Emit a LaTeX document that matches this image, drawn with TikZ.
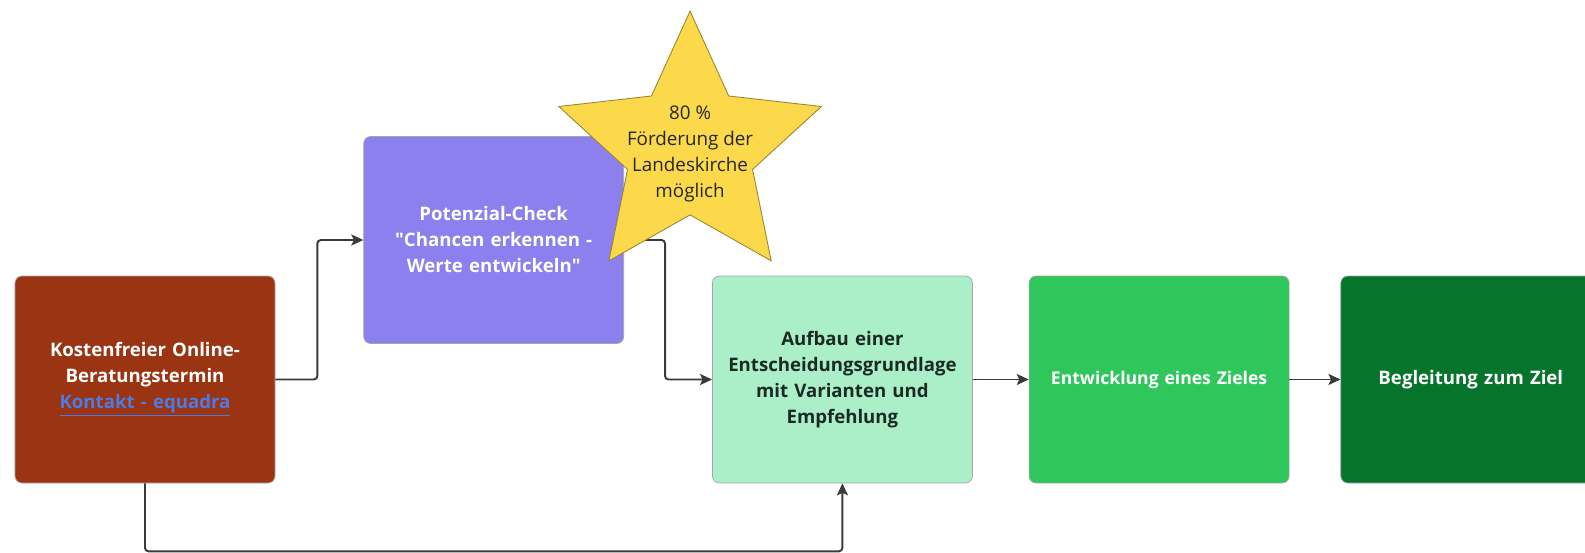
\documentclass[tikz,border=0pt]{standalone}
\usepackage{fontspec}
\setmainfont{Open Sans}
\usepackage{xcolor}
\usepackage{tikz}
\usetikzlibrary{shapes.geometric, arrows.meta, positioning}
\definecolor{rust}{HTML}{9A3412}
\definecolor{violet}{HTML}{8C7FEE}
\definecolor{mint}{HTML}{ABEFC8}
\definecolor{leaf}{HTML}{2FC65C}
\definecolor{forest}{HTML}{07742B}
\definecolor{gold}{HTML}{FCD94A}
\definecolor{goldline}{HTML}{9A8632}
\definecolor{linkblue}{HTML}{4B7BE5}
\definecolor{wire}{HTML}{3A3A3A}
\definecolor{ink}{HTML}{1B2A22}

\begin{document}
\begin{tikzpicture}[
  box/.style={rectangle, rounded corners=4pt, draw=black!35, line width=0.4pt,
              minimum width=5.2cm, minimum height=4.14cm, text width=4.9cm,
              align=center, text=white,
              font={\fontsize{10.6}{14.8}\selectfont\bfseries}},
  badge/.style={star, star points=5, star point ratio=2.1, minimum size=5.52cm,
                inner sep=0pt, fill=gold, draw=goldline, line width=0.5pt},
  badgetext/.style={align=center, text=black!85,
                    font={\fontsize{10.7}{14.8}\selectfont}},
  arrow/.style={-{Stealth[length=2.4mm, width=2.2mm, inset=0.5mm]},
                line width=1.1pt, color=wire, rounded corners=2pt}
]
\useasboundingbox (0,0) rectangle (31.7,-11.06);
\clip (0,0) rectangle (31.7,-11.06);

\node[box, fill=rust] (consult) at (2.9,-7.59)
  {Kostenfreier Online-\\ Beratungstermin\\ {\color{linkblue}\underline{Kontakt - equadra}}};
\node[box, fill=violet, right=1.76cm of consult, yshift=2.79cm] (check)
  {Potenzial-Check\\ \textquotedbl Chancen erkennen -\\ Werte entwickeln\textquotedbl};
\node[box, fill=mint, text=ink, right=1.76cm of check, yshift=-2.79cm] (basis)
  {Aufbau einer\\ Entscheidungsgrundlage\\ mit Varianten und\\ Empfehlung};
\node[box, fill=leaf, right=1.12cm of basis,
      font={\fontsize{10}{14.8}\selectfont\bfseries}] (goal) {Entwicklung eines Zieles};
\node[box, fill=forest, right=1.02cm of goal] (support) {Begleitung zum Ziel};

\draw[arrow] (consult.east) -- ++(0.84,0) |- (check.west);
\draw[arrow] (check.east) -- ++(0.82,0) |- (basis.west);
\draw[arrow] (consult.south) -- ++(0,-1.36) -| (basis.south);
\draw[arrow] (basis) -- (goal);
\draw[arrow] (goal) -- (support);

% funding star on top of the check box
\node[badge] (bonus) at ([xshift=1.32cm, yshift=-0.26cm]check.north east) {};
\node[badgetext] (bonustext) at ([yshift=-0.1cm]bonus.center)
  {80 \%\\ Förderung der\\ Landeskirche\\ möglich};

\end{tikzpicture}
\end{document}
